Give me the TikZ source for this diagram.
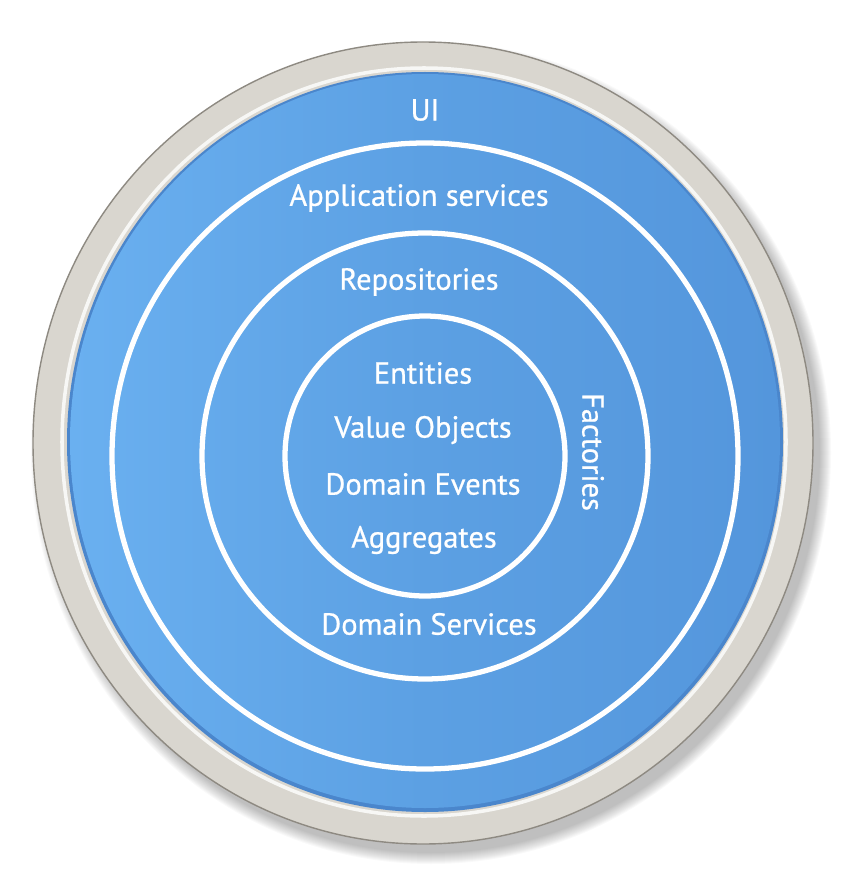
\documentclass[tikz,border=0pt]{standalone}
\usepackage{fontspec}
\setmainfont{PT Sans}
\newfontfamily\layerfont[FakeBold=0.7]{PT Sans}
\usepackage{tikz}
\usepackage{xcolor}
\definecolor{Layer_Light}{HTML}{6AB0F0}
\definecolor{Layer_Blue}{HTML}{5CA0E3}
\definecolor{Layer_Dark}{HTML}{5496DC}
\definecolor{Layer_Edge}{HTML}{4A86CC}
\definecolor{Rim_Gray}{HTML}{D9D6CF}
\definecolor{Rim_Line}{HTML}{8E8A82}
\tikzset{
  ring/.style={draw=white, line width=4.5pt},
  layer/.style={text=white, font=\layerfont\fontsize{26}{30}\selectfont}
}

\begin{document}
\begin{tikzpicture}[x=0.03cm, y=-0.03cm]
    \useasboundingbox (0,0) rectangle (850,875);

    % === soft shadow below the rim ===
    \foreach \i in {1,...,12} {
        \fill[black, opacity=0.022] (431,453) ellipse ({388+\i} and {399+\i});
    }

    % === gray rim ===
    \fill[Rim_Gray] (423,443) ellipse (390 and 401);
    \draw[Rim_Line, line width=1.2pt] (423,443) ellipse (390 and 401);
    \draw[white!80!Rim_Gray, line width=3pt] (424,442) ellipse (362 and 374);

    % === blue disc ===
    \fill[Layer_Edge] (425,442) ellipse (358 and 370);
    \shade[left color=Layer_Light, right color=Layer_Dark, middle color=Layer_Blue]
        (425,441) ellipse (355 and 367);

    % === layer boundaries, all centered at (425,456) ===
    \draw[ring] (425,456) circle (313);
    \draw[ring] (425,456) circle (223);
    \draw[ring] (425,456) circle (140);

    % === layer names ===
    \node[layer] (ui)        at (425,110) {UI};
    \node[layer] (appsvc)    at (419,198) {Application services};
    \node[layer] (repos)     at (419,282) {Repositories};
    \node[layer] (entities)  at (423,373) {Entities};
    \node[layer] (valobj)    at (423,430) {Value Objects};
    \node[layer] (domevt)    at (423,484) {Domain Events};
    \node[layer] (aggr)      at (424,540) {Aggregates};
    \node[layer] (domsvc)    at (429,624) {Domain Services};
    \node[layer, rotate=-90] (factories) at (593,452) {Factories};

\end{tikzpicture}
\end{document}
